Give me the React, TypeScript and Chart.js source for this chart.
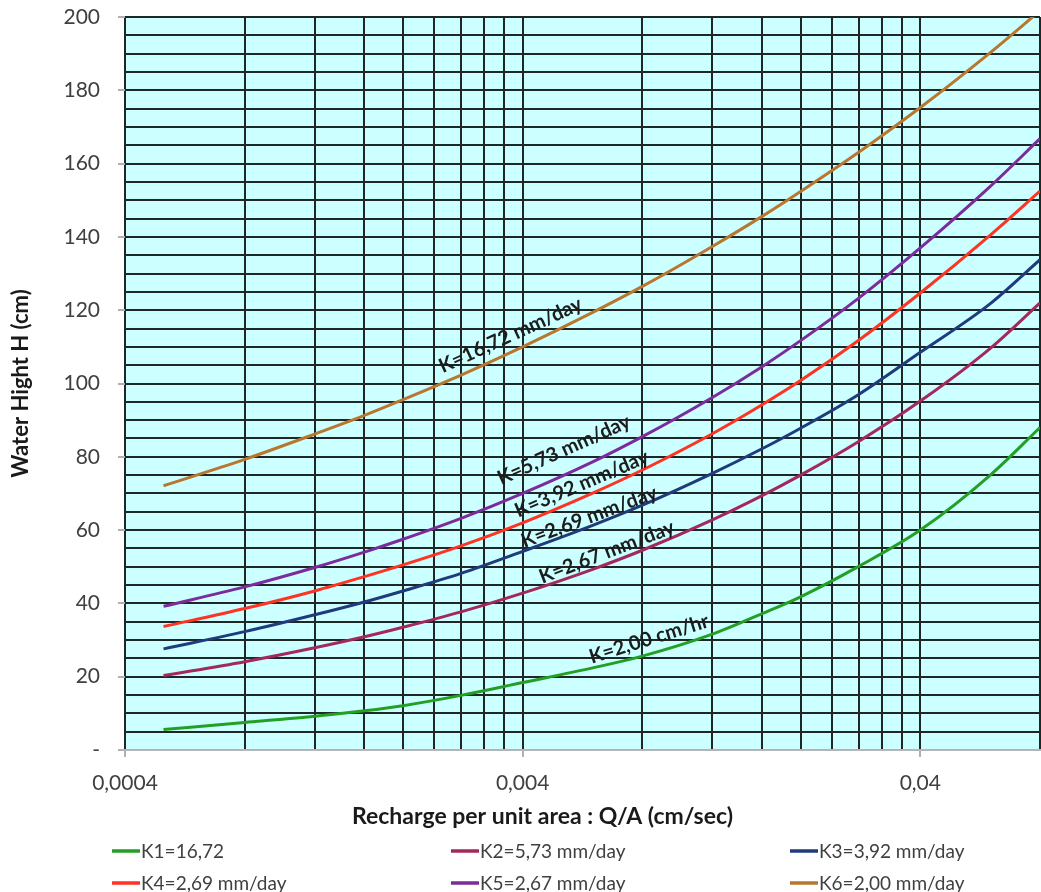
import React, { useEffect, useRef } from 'react';
import { Chart, registerables } from 'chart.js';

Chart.register(...registerables);

// ---- data ----
const qValues = [0.0005, 0.0008, 0.0012, 0.0016, 0.002, 0.0028, 0.004, 0.006, 0.008, 0.012, 0.016, 0.02, 0.028, 0.04, 0.06, 0.08];

const k1Values = [5.6, 7.5, 9.2, 10.7, 12.1, 14.9, 18.4, 22.4, 25.6, 31.6, 37.2, 41.8, 50.1, 60, 75, 88];
const k2Values = [20.3, 24.1, 27.9, 30.9, 33.5, 37.7, 42.8, 49.3, 54.5, 62.8, 69.4, 75.0, 84.2, 95.2, 109.6, 122];
const k3Values = [27.6, 32.3, 36.9, 40.4, 43.4, 48.2, 54.2, 61.3, 66.8, 75.5, 82.2, 87.8, 97.0, 108.5, 121.8, 133.8];
const k4Values = [33.7, 38.6, 43.4, 47.3, 50.5, 55.7, 62.0, 70.1, 76.4, 86.3, 94.2, 100.8, 111.8, 124.7, 140.5, 152.5];
const k5Values = [39.2, 44.5, 49.8, 54.0, 57.5, 63.2, 70.0, 78.6, 85.5, 96.2, 104.6, 111.7, 123.3, 137.0, 153.8, 166.8];
const k6Values = [72.1, 79.3, 86.2, 91.3, 95.6, 102.3, 110.0, 119.4, 126.5, 137.4, 145.6, 152.4, 163.1, 175.3, 190.3, 201.7];

const seriesLabels = ['K1=16,72', 'K2=5,73 mm/day', 'K3=3,92 mm/day', 'K4=2,69 mm/day', 'K5=2,67 mm/day', 'K6=2,00 mm/day'];
const seriesColors = ['#23a024', '#a3285c', '#1f3b7c', '#ff3322', '#7a2c9c', '#b8772e'];
const seriesValues = [k1Values, k2Values, k3Values, k4Values, k5Values, k6Values];

// labels written along the curves (series index, text, anchor q, anchor H)
const curveLabelSeries = [5, 4, 3, 2, 1, 0];
const curveLabelTexts = ['K=16,72 mm/day', 'K=5,73 mm/day', 'K=3,92 mm/day', 'K=2,69 mm/day', 'K=2,67 mm/day', 'K=2,00 cm/hr'];
const curveLabelQ = [0.00373, 0.00508, 0.00563, 0.00588, 0.00651, 0.00831];
const curveLabelH = [113.2, 81.9, 72.6, 63.6, 54.0, 30.3];

const xMajorTicks = [0.0004, 0.004, 0.04];
const xTickLabels = ['0,0004', '0,004', '0,04'];
const xMinorMultipliers = [1, 2, 3, 4, 5, 6, 7, 8, 9];
const xMin = 0.0004;
const xMax = 0.08;
const yMin = 0;
const yMax = 200;
const yStep = 5;
const yLabelStep = 20;

const xTitle = 'Recharge per unit area : Q/A (cm/sec)';
const yTitle = 'Water Hight H (cm)';

const FONT = 'Lato, "Open Sans", sans-serif';

function majorIndex(v: number): number {
  for (let i = 0; i < xMajorTicks.length; i++) {
    if (Math.abs(v / xMajorTicks[i] - 1) < 1e-6) return i;
  }
  return -1;
}

const bgPlugin = {
  id: 'plotBg',
  beforeDraw(chart: any) {
    const { ctx, chartArea } = chart;
    ctx.save();
    ctx.fillStyle = '#ccffff';
    ctx.fillRect(chartArea.left, chartArea.top, chartArea.right - chartArea.left, chartArea.bottom - chartArea.top);
    ctx.restore();
  },
};

const curveLabelPlugin = {
  id: 'curveLabels',
  afterDatasetsDraw(chart: any) {
    const { ctx } = chart;
    const xs = chart.scales.x;
    const ys = chart.scales.y;
    ctx.save();
    ctx.font = `bold 20px ${FONT}`;
    ctx.fillStyle = '#1c1c1c';
    ctx.textAlign = 'center';
    ctx.textBaseline = 'middle';
    curveLabelTexts.forEach((text, i) => {
      const px = xs.getPixelForValue(curveLabelQ[i]);
      const py = ys.getPixelForValue(curveLabelH[i]);
      const pts = chart.getDatasetMeta(curveLabelSeries[i]).data;
      let angle = 0;
      for (let j = 0; j < pts.length - 1; j++) {
        if (pts[j].x <= px && pts[j + 1].x >= px) {
          angle = Math.atan2(pts[j + 1].y - pts[j].y, pts[j + 1].x - pts[j].x);
          break;
        }
      }
      ctx.save();
      ctx.translate(px, py);
      ctx.rotate(angle);
      ctx.fillText(text, 0, 0);
      ctx.restore();
    });
    ctx.restore();
  },
};

const legendAndTitlePlugin = {
  id: 'gridLegend',
  afterDraw(chart: any) {
    const { ctx, chartArea } = chart;
    ctx.save();
    // x axis title
    ctx.font = `bold 23px ${FONT}`;
    ctx.fillStyle = '#1a1a1a';
    ctx.textAlign = 'center';
    ctx.textBaseline = 'middle';
    ctx.fillText(xTitle, (chartArea.left + chartArea.right) / 2 - 40, chartArea.bottom + 67);
    // legend in 3 columns
    ctx.font = `19px ${FONT}`;
    ctx.textAlign = 'left';
    chart.data.datasets.forEach((ds: any, i: number) => {
      const col = i % 3;
      const row = Math.floor(i / 3);
      const x0 = 112 + col * 339;
      const y0 = chartArea.bottom + 101 + row * 32;
      ctx.strokeStyle = ds.borderColor;
      ctx.lineWidth = 3.5;
      ctx.beginPath();
      ctx.moveTo(x0, y0);
      ctx.lineTo(x0 + 28, y0);
      ctx.stroke();
      ctx.fillStyle = '#404040';
      ctx.fillText(ds.label, x0 + 29, y0 + 1);
    });
    ctx.restore();
  },
};

export default function App() {
  const canvasRef = useRef<HTMLCanvasElement | null>(null);

  useEffect(() => {
    document.body.style.margin = '0';
    const canvas = canvasRef.current;
    if (!canvas) return;

    const datasets = seriesValues.map((vals, i) => ({
      label: seriesLabels[i],
      data: qValues.map((q, j) => ({ x: q, y: vals[j] })),
      borderColor: seriesColors[i],
      backgroundColor: seriesColors[i],
      borderWidth: 3,
      pointRadius: 0,
      cubicInterpolationMode: 'monotone' as const,
      fill: false,
    }));

    const xTickValues: number[] = [];
    xMajorTicks.forEach((m) => {
      xMinorMultipliers.forEach((k) => {
        const v = m * k;
        if (v <= xMax * 1.0001) xTickValues.push(v);
      });
    });
    if (xTickValues[xTickValues.length - 1] < xMax * 0.9999) xTickValues.push(xMax);

    const chart = new Chart(canvas, {
      type: 'line',
      data: { datasets },
      options: {
        animation: false,
        responsive: false,
        maintainAspectRatio: false,
        layout: { padding: { top: 17, right: 1, bottom: 0, left: 0 } },
        plugins: {
          legend: { display: false },
          tooltip: { enabled: false },
        },
        scales: {
          x: {
            type: 'logarithmic',
            min: xMin,
            max: xMax,
            afterBuildTicks: (scale: any) => {
              scale.ticks = xTickValues.map((v) => ({ value: v, major: majorIndex(v) >= 0 }));
            },
            afterFit: (scale: any) => {
              scale.height = 142;
              scale.paddingLeft = 0;
              scale.paddingRight = 0;
              scale.paddingTop = 0;
              scale.paddingBottom = 0;
            },
            ticks: {
              autoSkip: false,
              maxRotation: 0,
              padding: 14,
              color: '#404040',
              font: { family: FONT, size: 21 },
              callback: (v: any) => {
                const idx = majorIndex(Number(v));
                return idx >= 0 ? xTickLabels[idx] : '';
              },
            },
            grid: {
              color: '#1e2626',
              lineWidth: 2,
              tickLength: 7,
              tickColor: (c: any) => (c.tick && majorIndex(c.tick.value) >= 0 ? '#b0b0b0' : 'rgba(0,0,0,0)'),
            },
            border: { color: '#b5b5b5', width: 2 },
          },
          y: {
            type: 'linear',
            min: yMin,
            max: yMax,
            afterFit: (scale: any) => {
              scale.width = 125;
              scale.paddingTop = 0;
              scale.paddingBottom = 0;
              scale.paddingLeft = 0;
              scale.paddingRight = 0;
            },
            ticks: {
              stepSize: yStep,
              autoSkip: false,
              padding: 18,
              color: '#404040',
              font: { family: FONT, size: 21 },
              callback: (v: any) => {
                const n = Number(v);
                if (n % yLabelStep !== 0) return '';
                return n === 0 ? '-' : String(n);
              },
            },
            grid: {
              color: '#1e2626',
              lineWidth: 2,
              tickLength: 7,
              tickColor: (c: any) => (c.tick && c.tick.value % yLabelStep === 0 ? '#b0b0b0' : 'rgba(0,0,0,0)'),
            },
            border: { display: false },
            title: {
              display: true,
              text: yTitle,
              color: '#1a1a1a',
              font: { family: FONT, size: 22, weight: 'bold' },
              padding: { top: 8, bottom: 0 },
            },
          },
        },
      },
      plugins: [bgPlugin, curveLabelPlugin, legendAndTitlePlugin],
    } as any);

    return () => {
      chart.destroy();
    };
  }, []);

  return (
    <div style={{ width: 1041, height: 892 }}>
      <canvas ref={canvasRef} width={1041} height={892} style={{ display: 'block', width: 1041, height: 892 }} />
    </div>
  );
}
